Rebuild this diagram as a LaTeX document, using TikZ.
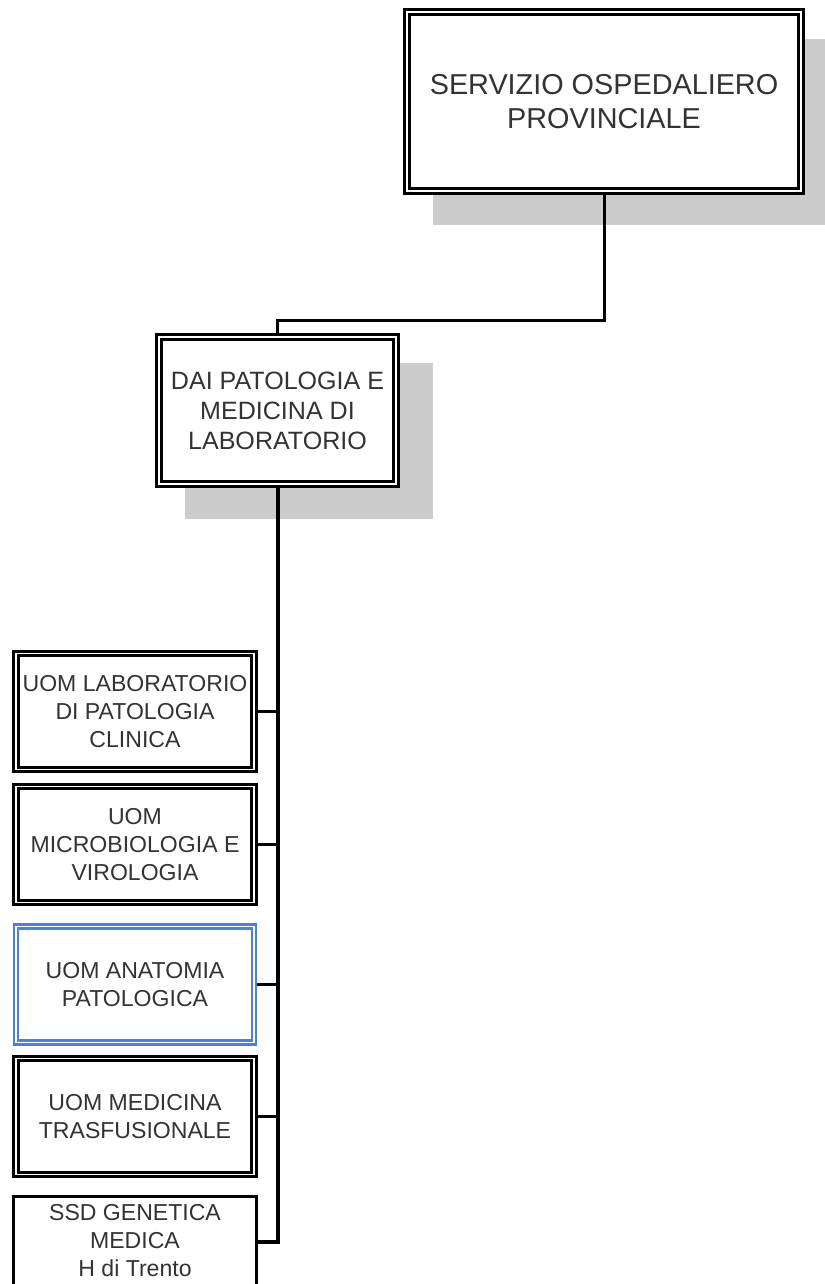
\documentclass[tikz,border=0pt]{standalone}
\usepackage{fontspec}
\setmainfont{Liberation Sans}
\definecolor{txt}{HTML}{333333}
\definecolor{shad}{HTML}{CCCCCC}
\definecolor{bluebd}{HTML}{4F81D0}
\pgfdeclarelayer{background}
\pgfsetlayers{background,main}
\begin{document}
\begin{tikzpicture}[x=0.75pt,y=-0.75pt,
  box/.style={rectangle, draw=black, double=white, line width=2.5pt, double distance=0.8pt,
    fill=white, inner sep=0pt, text=txt, align=center},
  bluebox/.style={box, draw=bluebd, line width=2pt, double distance=1.2pt},
  plainbox/.style={rectangle, draw=black, line width=2.25pt, fill=white, inner sep=0pt, text=txt, align=center},
  topfont/.style={font=\fontsize{21.6}{26}\selectfont},
  midfont/.style={font=\fontsize{18.8}{22.5}\selectfont},
  childfont/.style={font=\fontsize{17.3}{21}\selectfont},
  child/.style={childfont, minimum width=178.5pt, minimum height=87pt},
  conn/.style={draw=black, line width=2.25pt},
  trunk/.style={draw=black, line width=3pt},
  shadow/.style={fill=shad}
]
\clip (0,0) rectangle (824,1284);
\useasboundingbox (0,0) rectangle (824,1284);

\node[box, topfont, minimum width=295.5pt, minimum height=134.25pt] (sop) at (604,101.5)
  {SERVIZIO OSPEDALIERO\\PROVINCIALE};
\node[box, midfont, minimum width=177.75pt, minimum height=110.25pt] (dai) at (277.5,410.5)
  {DAI PATOLOGIA E\\MEDICINA DI\\LABORATORIO};
\node[box, child] (c1) at (135,711.5) {UOM LABORATORIO\\DI PATOLOGIA\\CLINICA};
\node[box, child] (c2) at (135,844.5) {UOM\\MICROBIOLOGIA E\\VIROLOGIA};
\node[bluebox, child] (c3) at (135,984.5) {UOM ANATOMIA\\PATOLOGICA};
\node[box, child] (c4) at (135,1116.5) {UOM MEDICINA\\TRASFUSIONALE};
\node[plainbox, minimum width=182.25pt, minimum height=68.25pt,
  label={[childfont, text=txt, align=center, anchor=north, inner sep=1.5pt, yshift=-5pt]north:{SSD GENETICA\\MEDICA\\H di Trento}}]
  (c5) at (135,1242) {};

\begin{pgfonlayer}{background}
  \fill[shadow] (433,39) rectangle (830,225);
  \fill[shadow] (185,363) rectangle (433,519);
  \draw[conn] (sop.south) -- ++(0,128) -| (dai.north);
  \draw[trunk, line join=miter] (dai.south) |- (c5.east);
  \draw[conn] (c1.east) -- (c1.east -| dai.south);
  \draw[conn] (c2.east) -- (c2.east -| dai.south);
  \draw[conn] (c3.east) -- (c3.east -| dai.south);
  \draw[conn] (c4.east) -- (c4.east -| dai.south);
\end{pgfonlayer}
\end{tikzpicture}
\end{document}
